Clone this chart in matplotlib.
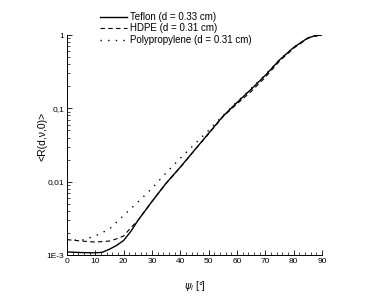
import matplotlib
matplotlib.use("Agg")
import matplotlib.pyplot as plt
from matplotlib.ticker import FixedLocator, MultipleLocator, LogLocator, NullFormatter

plt.rcParams['font.family'] = ['Liberation Sans', 'DejaVu Sans']

# Data
teflon_x = [0, 5, 10, 12.5, 15, 17.5, 20, 22.5, 25, 30, 35, 40, 45, 50, 55, 60, 65, 70, 75, 80, 85, 87.5, 90]
teflon_y = [1.10e-3, 1.08e-3, 1.07e-3, 1.09e-3, 1.20e-3, 1.35e-3, 1.58e-3, 2.09e-3, 2.95e-3, 5.37e-3,
            9.55e-3, 0.0158, 0.0269, 0.0457, 0.0776, 0.120, 0.182, 0.282, 0.457, 0.676, 0.912, 0.975, 1.0]

hdpe_x = [0, 5, 10, 15, 17.5, 20, 22.5, 25, 30, 35, 40, 45, 50, 55, 60, 65, 70, 75, 80, 85, 87.5, 90]
hdpe_y = [1.62e-3, 1.55e-3, 1.50e-3, 1.55e-3, 1.66e-3, 1.82e-3, 2.35e-3, 2.95e-3, 5.37e-3, 9.5e-3,
          0.0157, 0.0267, 0.045, 0.0765, 0.115, 0.170, 0.265, 0.44, 0.66, 0.90, 0.975, 1.0]

pp_x = [0, 5, 10, 15, 20, 25, 30, 35, 40, 45, 50, 55, 60, 65, 70, 75, 80, 85, 90]
pp_y = [1.62e-3, 1.58e-3, 1.82e-3, 2.26e-3, 3.47e-3, 5.25e-3, 8.13e-3, 0.0132, 0.0209, 0.0324,
        0.0501, 0.0794, 0.123, 0.186, 0.288, 0.46, 0.68, 0.915, 1.0]

labels = ["Teflon (d = 0.33 cm)", "HDPE (d = 0.31 cm)", "Polypropylene (d = 0.31 cm)"]
xticks = [0, 10, 20, 30, 40, 50, 60, 70, 80, 90]
yticks = [1e-3, 1e-2, 1e-1, 1]
ytick_labels = ["1E-3", "0,01", "0,1", "1"]

fig = plt.figure(figsize=(3.74, 3.05), dpi=100)
ax = fig.add_axes([67/374, 1-255/305, (322-67)/374, (255-35)/305])

l1, = ax.plot(teflon_x, teflon_y, color='black', lw=1.0, ls='-')
l2, = ax.plot(hdpe_x, hdpe_y, color='black', lw=0.8, ls=(0, (4, 3)))
l3, = ax.plot(pp_x, pp_y, color='black', lw=1.0, ls=(0, (1, 4.5)))

ax.set_yscale('log')
ax.set_xlim(0, 90)
ax.set_ylim(1e-3, 1.0)

for s in ['top', 'right']:
    ax.spines[s].set_visible(False)
for s in ['left', 'bottom']:
    ax.spines[s].set_linewidth(0.7)

ax.xaxis.set_major_locator(FixedLocator(xticks))
ax.xaxis.set_minor_locator(MultipleLocator(2))
ax.set_xticklabels([str(t) for t in xticks])
ax.yaxis.set_major_locator(FixedLocator(yticks))
ax.set_yticklabels(ytick_labels)
ax.yaxis.set_minor_locator(LogLocator(base=10, subs=range(2, 10)))
ax.yaxis.set_minor_formatter(NullFormatter())

ax.tick_params(which='major', direction='in', length=3.5, width=0.6, labelsize=6, pad=2)
ax.tick_params(which='minor', direction='in', length=2, width=0.5)

ax.set_xlabel(r"$\psi_i$ [°]", fontsize=7)
ax.xaxis.set_label_coords(0.5, -0.11)
ax.set_ylabel("<R(d,ν,0)>", fontsize=7.5)
ax.yaxis.set_label_coords(-0.075, 0.54)

fig.legend([l1, l2, l3], labels, loc='upper left', bbox_to_anchor=(100/374, 1-12/305),
           frameon=False, fontsize=7, handlelength=2.8, handletextpad=0.3,
           labelspacing=0.15, borderaxespad=0, borderpad=0)

fig.savefig("out.png", dpi=100)
